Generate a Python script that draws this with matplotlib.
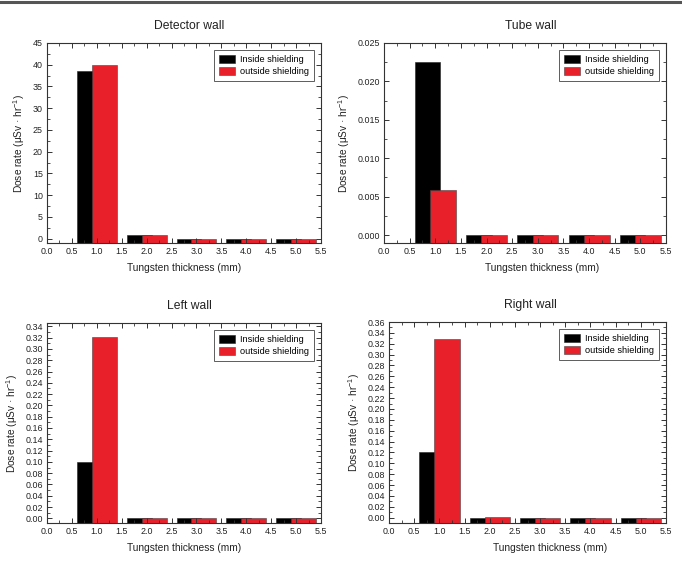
import matplotlib
matplotlib.use("Agg")
import matplotlib.pyplot as plt
from matplotlib.ticker import MultipleLocator, FormatStrFormatter
from matplotlib.lines import Line2D

plt.rcParams['font.family'] = ['Liberation Sans', 'DejaVu Sans']
plt.rcParams['mathtext.fontset'] = 'custom'
plt.rcParams['mathtext.rm'] = 'Liberation Sans'
plt.rcParams['mathtext.it'] = 'Liberation Sans:italic'

thickness = [1.0, 2.0, 3.0, 4.0, 5.0]
series_names = ["Inside shielding", "outside shielding"]

titles = ["Detector wall", "Tube wall", "Left wall", "Right wall"]

detector_inside = [38.5, 0.8, 0.0, 0.0, 0.0]
detector_outside = [40.0, 0.8, 0.0, 0.0, 0.0]
tube_inside = [0.0225, 0.0, 0.0, 0.0, 0.0]
tube_outside = [0.0058, 0.0, 0.0, 0.0, 0.0]
left_inside = [0.10, 0.0, 0.0, 0.0, 0.0]
left_outside = [0.321, 0.001, 0.0, 0.0, 0.0]
right_inside = [0.12, 0.0, 0.0, 0.0, 0.0]
right_outside = [0.328, 0.002, 0.0, 0.0, 0.0]

inside_vals = [detector_inside, tube_inside, left_inside, right_inside]
outside_vals = [detector_outside, tube_outside, left_outside, right_outside]

ylims = [(-1.0, 45), (-0.00104, 0.025), (-0.0083, 0.346), (-0.0098, 0.36)]
ymajor = [5, 0.005, 0.02, 0.02]
yfmt = ['%d', '%.3f', '%.2f', '%.2f']

W, H = 682, 564
fig = plt.figure(figsize=(W / 100, H / 100), dpi=100)

# axes rects in pixels: left, top, right, bottom
rects = [(47, 43, 321, 243), (384, 43, 666, 243),
         (47, 323, 321, 523), (389, 322, 666, 523)]
xlabel_x = [0.5, 0.562, 0.5, 0.58]
title_x = [0.52, 0.52, 0.52, 0.51]

black = '#000000'
red = '#E8202A'
tick_color = '#333333'

for i, (l, t, r, b) in enumerate(rects):
    ax = fig.add_axes([l / W, 1 - b / H, (r - l) / W, (b - t) / H])
    y0, y1 = ylims[i]
    xs_in = [x - 0.15 for x in thickness]
    xs_out = [x + 0.15 for x in thickness]
    ax.bar(xs_in, [v - y0 for v in inside_vals[i]], width=0.5, bottom=y0,
           color=black, edgecolor='#222222', linewidth=0.4, label=series_names[0])
    ax.bar(xs_out, [v - y0 for v in outside_vals[i]], width=0.5, bottom=y0,
           color=red, edgecolor='#444444', linewidth=0.4, label=series_names[1])
    ax.set_xlim(0, 5.5)
    ax.set_ylim(y0, y1)
    ax.xaxis.set_major_locator(MultipleLocator(0.5))
    ax.xaxis.set_minor_locator(MultipleLocator(0.25))
    ax.xaxis.set_major_formatter(FormatStrFormatter('%.1f'))
    ax.yaxis.set_major_locator(MultipleLocator(ymajor[i]))
    ax.yaxis.set_minor_locator(MultipleLocator(ymajor[i] / 2))
    ax.yaxis.set_major_formatter(FormatStrFormatter(yfmt[i]))
    ax.tick_params(which='both', direction='in', top=True, right=True,
                   labelsize=6.4, colors=tick_color, labelcolor='#222222', pad=3)
    ax.tick_params(which='major', length=3.5, width=0.7)
    ax.tick_params(which='minor', length=2, width=0.6)
    for s in ax.spines.values():
        s.set_linewidth(0.8)
        s.set_color('#333333')
    ax.set_title(titles[i], fontsize=8.7, pad=10, color='#222222', x=title_x[i])
    ax.set_xlabel('Tungsten thickness (mm)', fontsize=7.3, labelpad=5, color='#222222')
    ax.xaxis.label.set_x(xlabel_x[i])
    ax.set_ylabel('Dose rate (μSv · hr$^{-1}$)', fontsize=7.3, labelpad=4, color='#222222')
    leg = ax.legend(loc='upper right', fontsize=6.6, fancybox=False, frameon=True,
                    edgecolor='#333333', borderpad=0.55, handlelength=1.8,
                    handleheight=0.9, handletextpad=0.5, labelspacing=0.3,
                    borderaxespad=0.8)
    leg.get_frame().set_linewidth(0.7)

fig.add_artist(Line2D([0, 1], [1 - 1.5 / H, 1 - 1.5 / H], transform=fig.transFigure,
                      color='#555555', linewidth=2.2))

fig.savefig('out.png', dpi=100)
